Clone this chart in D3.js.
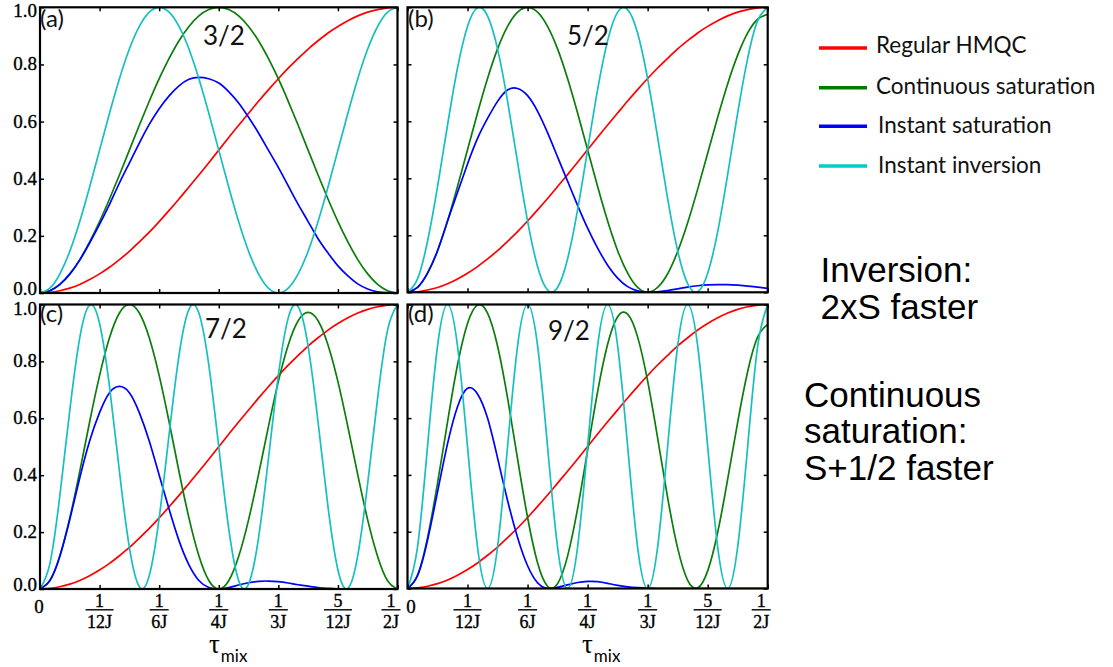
<!DOCTYPE html>
<html><head><meta charset="utf-8">
<script src="https://cdn.jsdelivr.net/npm/d3@7"></script>
<style>body{margin:0;background:#fff}svg{display:block}</style>
</head><body><svg id="c" width="1113" height="667"></svg>
<script>
// ---------- data (tau in units of 1/J) ----------
const tauMix = [0,0.0139,0.0278,0.0417,0.0556,0.0694,0.0833,0.0972,0.1111,0.125,0.1389,0.1528,0.1667,0.1806,0.1944,0.2083,0.2222,0.2361,0.25,0.2639,0.2778,0.2917,0.3056,0.3194,0.3333,0.3472,0.3611,0.375,0.3889,0.4028,0.4167,0.4306,0.4444,0.4583,0.4722,0.4861,0.5];

const seriesNames = ["Regular HMQC","Continuous saturation","Instant saturation","Instant inversion"];
const spins = ["3/2","5/2","7/2","9/2"];
const panelTags = ["(a)","(b)","(c)","(d)"];

const regularHMQC = [0,0.002,0.008,0.017,0.03,0.047,0.067,0.09,0.117,0.146,0.179,0.213,0.25,0.289,0.329,0.371,0.413,0.456,0.5,0.544,0.587,0.629,0.671,0.711,0.75,0.787,0.821,0.854,0.883,0.91,0.933,0.953,0.97,0.983,0.992,0.998,1];

const contSat32 = [0,0.008,0.03,0.067,0.117,0.179,0.25,0.329,0.413,0.5,0.587,0.671,0.75,0.821,0.883,0.933,0.97,0.992,1,0.992,0.97,0.933,0.883,0.821,0.75,0.671,0.587,0.5,0.413,0.329,0.25,0.179,0.117,0.067,0.03,0.008,0];
const instSat32 = [0,0.008,0.03,0.066,0.115,0.175,0.24,0.31,0.385,0.455,0.525,0.59,0.645,0.69,0.725,0.748,0.755,0.75,0.735,0.705,0.665,0.615,0.56,0.5,0.44,0.375,0.31,0.25,0.19,0.14,0.095,0.06,0.032,0.014,0.004,0.001,0];
const instInv32 = [0,0.017,0.067,0.146,0.25,0.371,0.5,0.629,0.75,0.854,0.933,0.983,1,0.983,0.933,0.854,0.75,0.629,0.5,0.371,0.25,0.146,0.067,0.017,0,0.017,0.067,0.146,0.25,0.371,0.5,0.629,0.75,0.854,0.933,0.983,1];

const contSat52 = [0,0.017,0.067,0.146,0.25,0.371,0.5,0.629,0.75,0.854,0.933,0.983,1,0.983,0.933,0.854,0.75,0.629,0.5,0.371,0.25,0.146,0.067,0.017,0,0.017,0.065,0.143,0.244,0.362,0.488,0.614,0.731,0.832,0.91,0.958,0.975];
const instSat52 = [0,0.017,0.067,0.146,0.25,0.35,0.45,0.54,0.61,0.67,0.71,0.715,0.69,0.635,0.56,0.475,0.39,0.305,0.225,0.155,0.095,0.05,0.02,0.005,0,0.002,0.006,0.012,0.018,0.023,0.026,0.027,0.027,0.025,0.022,0.018,0.014];
const instInv52 = [0,0.047,0.179,0.371,0.587,0.787,0.933,0.998,0.97,0.854,0.671,0.456,0.25,0.09,0.008,0.017,0.117,0.289,0.5,0.711,0.883,0.983,0.992,0.91,0.75,0.544,0.329,0.146,0.03,0.002,0.067,0.213,0.413,0.629,0.821,0.953,1];

const contSat72 = [0,0.03,0.117,0.25,0.413,0.587,0.75,0.883,0.97,1,0.97,0.883,0.75,0.587,0.413,0.25,0.117,0.03,0,0.029,0.114,0.243,0.402,0.57,0.729,0.858,0.943,0.972,0.943,0.858,0.729,0.57,0.402,0.243,0.114,0.029,0];
const instSat72 = [0,0.03,0.115,0.245,0.39,0.52,0.62,0.69,0.712,0.69,0.62,0.52,0.4,0.28,0.17,0.085,0.03,0.005,0,0.005,0.014,0.022,0.027,0.028,0.026,0.021,0.015,0.01,0.005,0.002,0,0,0,0,0,0,0];
const instInv72 = [0,0.09,0.329,0.629,0.883,0.998,0.933,0.711,0.413,0.146,0.008,0.047,0.25,0.544,0.821,0.983,0.97,0.787,0.5,0.213,0.03,0.017,0.179,0.456,0.75,0.953,0.992,0.854,0.587,0.289,0.067,0.002,0.117,0.371,0.671,0.91,1];

const contSat92 = [0,0.047,0.179,0.371,0.587,0.787,0.933,0.998,0.97,0.854,0.671,0.456,0.25,0.09,0.008,0.017,0.114,0.281,0.487,0.693,0.86,0.957,0.966,0.886,0.731,0.53,0.32,0.142,0.029,0.002,0.062,0.198,0.384,0.585,0.764,0.886,0.93];
const instSat92 = [0,0.045,0.17,0.34,0.51,0.64,0.705,0.685,0.6,0.46,0.31,0.18,0.08,0.02,0,0.004,0.013,0.021,0.025,0.024,0.018,0.011,0.006,0.003,0.001,0,0,0,0,0,0,0,0,0,0,0,0];
const instInv92 = [0,0.146,0.5,0.854,1,0.854,0.5,0.146,0,0.146,0.5,0.854,1,0.854,0.5,0.146,0,0.146,0.5,0.854,1,0.854,0.5,0.146,0,0.146,0.5,0.854,1,0.854,0.5,0.146,0,0.146,0.5,0.854,1];

const xTickValues = [0, 1/12, 1/6, 1/4, 1/3, 5/12, 1/2];
const xTickNum = ["0","1","1","1","1","5","1"];
const xTickDen = ["","12J","6J","4J","3J","12J","2J"];
const yTickValues = [0, 0.2, 0.4, 0.6, 0.8, 1.0];
const yTickLabels = ["0.0","0.2","0.4","0.6","0.8","1.0"];

const notes1 = ["Inversion:","2xS faster"];
const notes2 = ["Continuous","saturation:","S+1/2 faster"];

// ---------- styling / layout ----------
const curveColors = ["#ff0000","#0a7d0a","#0000ff","#17bfbf"];
const legendColors = ["#ff0000","#007a00","#0000ff","#00cccc"];
const panelData = [
  [regularHMQC, contSat32, instSat32, instInv32],
  [regularHMQC, contSat52, instSat52, instInv52],
  [regularHMQC, contSat72, instSat72, instInv72],
  [regularHMQC, contSat92, instSat92, instInv92]
];
const boxes = [
  {x0:40, x1:397.5, yt:7.3, yb:293, tag:[40,27], spin:[203,45]},
  {x0:407.5, x1:767.7, yt:7.3, yb:292.3, tag:[408,27], spin:[567,45]},
  {x0:40, x1:397.5, yt:304.5, yb:589, tag:[40,322], spin:[205,338]},
  {x0:407.5, x1:767.7, yt:304.5, yb:588.5, tag:[408,322], spin:[548,340]}
];

const svg = d3.select("#c");
const defs = svg.append("defs");
const serifLbl = (s, size) => s.style("font-family", "'Liberation Serif', serif").style("font-size", size)
  .attr("fill", "#000").attr("stroke", "#000").attr("stroke-width", 0.35);

boxes.forEach((b, p) => {
  const x = d3.scaleLinear().domain([0, 0.5]).range([b.x0, b.x1]);
  const y = d3.scaleLinear().domain([0, 1]).range([b.yb, b.yt]);
  const g = svg.append("g");
  defs.append("clipPath").attr("id", "clip" + p).append("rect")
    .attr("x", b.x0).attr("y", b.yt).attr("width", b.x1 - b.x0).attr("height", b.yb - b.yt);

  const line = d3.line().x(d => x(d[0])).y(d => y(d[1])).curve(d3.curveNatural);
  const cg = g.append("g").attr("clip-path", `url(#clip${p})`);
  panelData[p].forEach((s, k) => {
    cg.append("path")
      .datum(tauMix.map((t, i) => [t, s[i]]))
      .attr("d", line)
      .attr("fill", "none")
      .attr("stroke", curveColors[k])
      .attr("stroke-width", 1.7)
      .attr("stroke-linejoin", "round");
  });

  // inward ticks on all four sides
  const tk = (sel) => { sel.select(".domain").remove(); sel.selectAll("line").attr("stroke", "#000").attr("stroke-width", 1.5); sel.selectAll("text").remove(); };
  g.append("g").attr("transform", `translate(0,${b.yb})`).call(d3.axisBottom(x).tickValues(xTickValues).tickSize(-4)).call(tk);
  g.append("g").attr("transform", `translate(0,${b.yt})`).call(d3.axisTop(x).tickValues(xTickValues).tickSize(-4)).call(tk);
  g.append("g").attr("transform", `translate(${b.x0},0)`).call(d3.axisLeft(y).tickValues(yTickValues).tickSize(-4)).call(tk);
  g.append("g").attr("transform", `translate(${b.x1},0)`).call(d3.axisRight(y).tickValues(yTickValues).tickSize(-4)).call(tk);

  // frame
  g.append("rect").attr("x", b.x0).attr("y", b.yt).attr("width", b.x1 - b.x0).attr("height", b.yb - b.yt)
    .attr("fill", "none").attr("stroke", "#000").attr("stroke-width", 2.2);

  // y labels (left panels)
  if (p === 0 || p === 2) {
    yTickValues.forEach((v, i) => {
      let dy = 6;
      if (v === 0) dy = 2;
      if (v === 1) dy = 10;
      g.append("text").attr("x", 37).attr("y", y(v) + dy)
        .attr("text-anchor", "end")
        .call(serifLbl, "19px").text(yTickLabels[i]);
    });
  }
  // x labels (bottom panels)
  if (p >= 2) {
    xTickValues.forEach((v, i) => {
      let cx = x(v);
      if (i === 0) {
        g.append("text").attr("x", p === 2 ? cx - 1 : cx + 3.5).attr("y", 612.5)
          .attr("text-anchor", "middle").call(serifLbl, "19px")
          .text(xTickNum[i]);
        return;
      }
      if (i === 6) cx -= 6.5;
      g.append("text").attr("x", cx).attr("y", 607).attr("text-anchor", "middle").call(serifLbl, "18px").text(xTickNum[i]);
      const den = g.append("text").attr("x", cx).attr("y", 627.5).attr("text-anchor", "middle").call(serifLbl, "18px").text(xTickDen[i]);
      const w = den.node().getComputedTextLength() + 3;
      g.append("line").attr("x1", cx - w / 2).attr("x2", cx + w / 2).attr("y1", 609.8).attr("y2", 609.8)
        .attr("stroke", "#000").attr("stroke-width", 1.4);
    });
    const tx = p === 2 ? 209 : 582;
    const t = g.append("text").attr("x", tx).attr("y", 653);
    t.append("tspan").style("font-family", "'Liberation Serif', serif").style("font-size", "27px").text("τ");
    t.append("tspan").attr("dy", 9).attr("dx", 1).style("font-family", "Lato, sans-serif").style("font-size", "17px").text("mix");
  }

  // panel tag and spin
  g.append("text").attr("x", b.tag[0]).attr("y", b.tag[1])
    .style("font-family", "Lato, sans-serif").style("font-size", "24px").attr("fill", "#111").text(panelTags[p]);
  g.append("text").attr("x", b.spin[0]).attr("y", b.spin[1])
    .style("font-family", "Lato, sans-serif").style("font-size", "26px").attr("fill", "#111").text(spins[p]);
});

// legend
const legY = [48, 87.7, 126.3, 166];
const legTextY = [52.5, 94, 133.3, 173.3];
const legTextX = [876, 876, 878, 878];
const lg = svg.append("g");
seriesNames.forEach((n, k) => {
  lg.append("line").attr("x1", 819).attr("x2", 867).attr("y1", legY[k]).attr("y2", legY[k])
    .attr("stroke", legendColors[k]).attr("stroke-width", 3.4);
  lg.append("text").attr("x", legTextX[k]).attr("y", legTextY[k])
    .style("font-family", "Lato, sans-serif").style("font-size", "22.5px").attr("fill", "#111").text(n);
});

// annotations
const ng = svg.append("g").style("font-family", "'Liberation Sans', Arial, sans-serif").style("font-size", "35px").attr("fill", "#000");
const n1y = [281.7, 319.3];
notes1.forEach((s, i) => ng.append("text").attr("x", 820.5).attr("y", n1y[i]).text(s));
const n2y = [407.3, 443.3, 480];
notes2.forEach((s, i) => ng.append("text").attr("x", 804).attr("y", n2y[i]).text(s));
</script>
</body></html>
